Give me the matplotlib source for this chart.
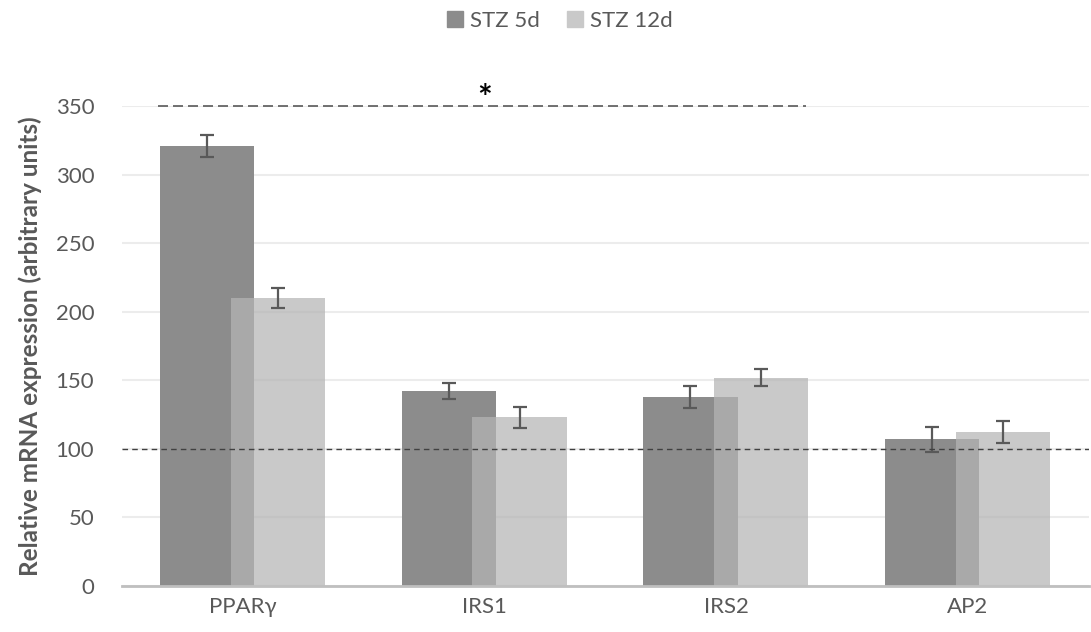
import numpy as np
import matplotlib
matplotlib.use("Agg")
import matplotlib.pyplot as plt
from matplotlib.patches import Patch

plt.rcParams['font.family'] = ['Lato', 'DejaVu Sans']

genes = ["PPARγ", "IRS1", "IRS2", "AP2"]
stz5_mean = [321, 142, 138, 107]
stz5_err = [8, 6, 8, 9]
stz12_mean = [210, 123, 152, 112]
stz12_err = [7.5, 7.5, 6, 8]
series_names = ["STZ 5d", "STZ 12d"]

txt = "#595959"
fig = plt.figure(figsize=(10.91, 6.32), dpi=100)
ax = fig.add_axes([0.1118, 0.0728, 0.8862, 0.7595])

x = np.arange(len(genes))
w = 0.39
ax.bar(x - 0.148, stz5_mean, w, color="#8c8c8c", zorder=2)
ax.bar(x + 0.145, stz12_mean, w, color="#b5b5b5", alpha=0.73, zorder=3)
ax.errorbar(x - 0.148, stz5_mean, yerr=stz5_err, fmt="none", ecolor="#595959",
            elinewidth=1.6, capsize=5, capthick=1.6, zorder=4)
ax.errorbar(x + 0.145, stz12_mean, yerr=stz12_err, fmt="none", ecolor="#595959",
            elinewidth=1.6, capsize=5, capthick=1.6, zorder=4)

# reference line at 100 and significance bracket
ax.axhline(100, color="#404040", lw=1.0, ls=(0, (4, 3)), zorder=5)
ax.plot([-0.35, 2.33], [350, 350], color="#595959", lw=1.2, ls=(0, (6, 3)), zorder=5, clip_on=False)
ax.text(1.0, 355, "*", ha="center", va="center", fontsize=25, fontweight="bold",
        color="black", clip_on=False)

ax.set_xlim(-0.5, 3.5)
ax.set_ylim(0, 350)
ax.set_yticks(np.arange(0, 351, 50))
ax.set_xticks(x)
ax.set_xticklabels(genes)
ax.yaxis.grid(True, color="#ececec", lw=1.5, zorder=0)
ax.set_axisbelow(True)
for s in ["top", "right", "left"]:
    ax.spines[s].set_visible(False)
ax.spines["bottom"].set_color("#bfbfbf")
ax.spines["bottom"].set_linewidth(2)
ax.spines["bottom"].set_zorder(6)
ax.tick_params(axis="both", length=0, labelsize=16, colors=txt, pad=8)
ax.tick_params(axis="y", pad=20)
ax.set_ylabel("Relative mRNA expression (arbitrary units)", fontsize=17.5,
              fontweight="bold", color=txt, labelpad=10)

handles = [Patch(color="#8c8c8c"), Patch(color="#c9c9c9")]
fig.legend(handles, series_names, loc="upper center", bbox_to_anchor=(0.513, 1.015),
           ncol=2, frameon=False, fontsize=16, labelcolor=txt,
           handlelength=0.75, handleheight=0.75, handletextpad=0.3, columnspacing=1.2)

fig.savefig("out.png", dpi=100)
